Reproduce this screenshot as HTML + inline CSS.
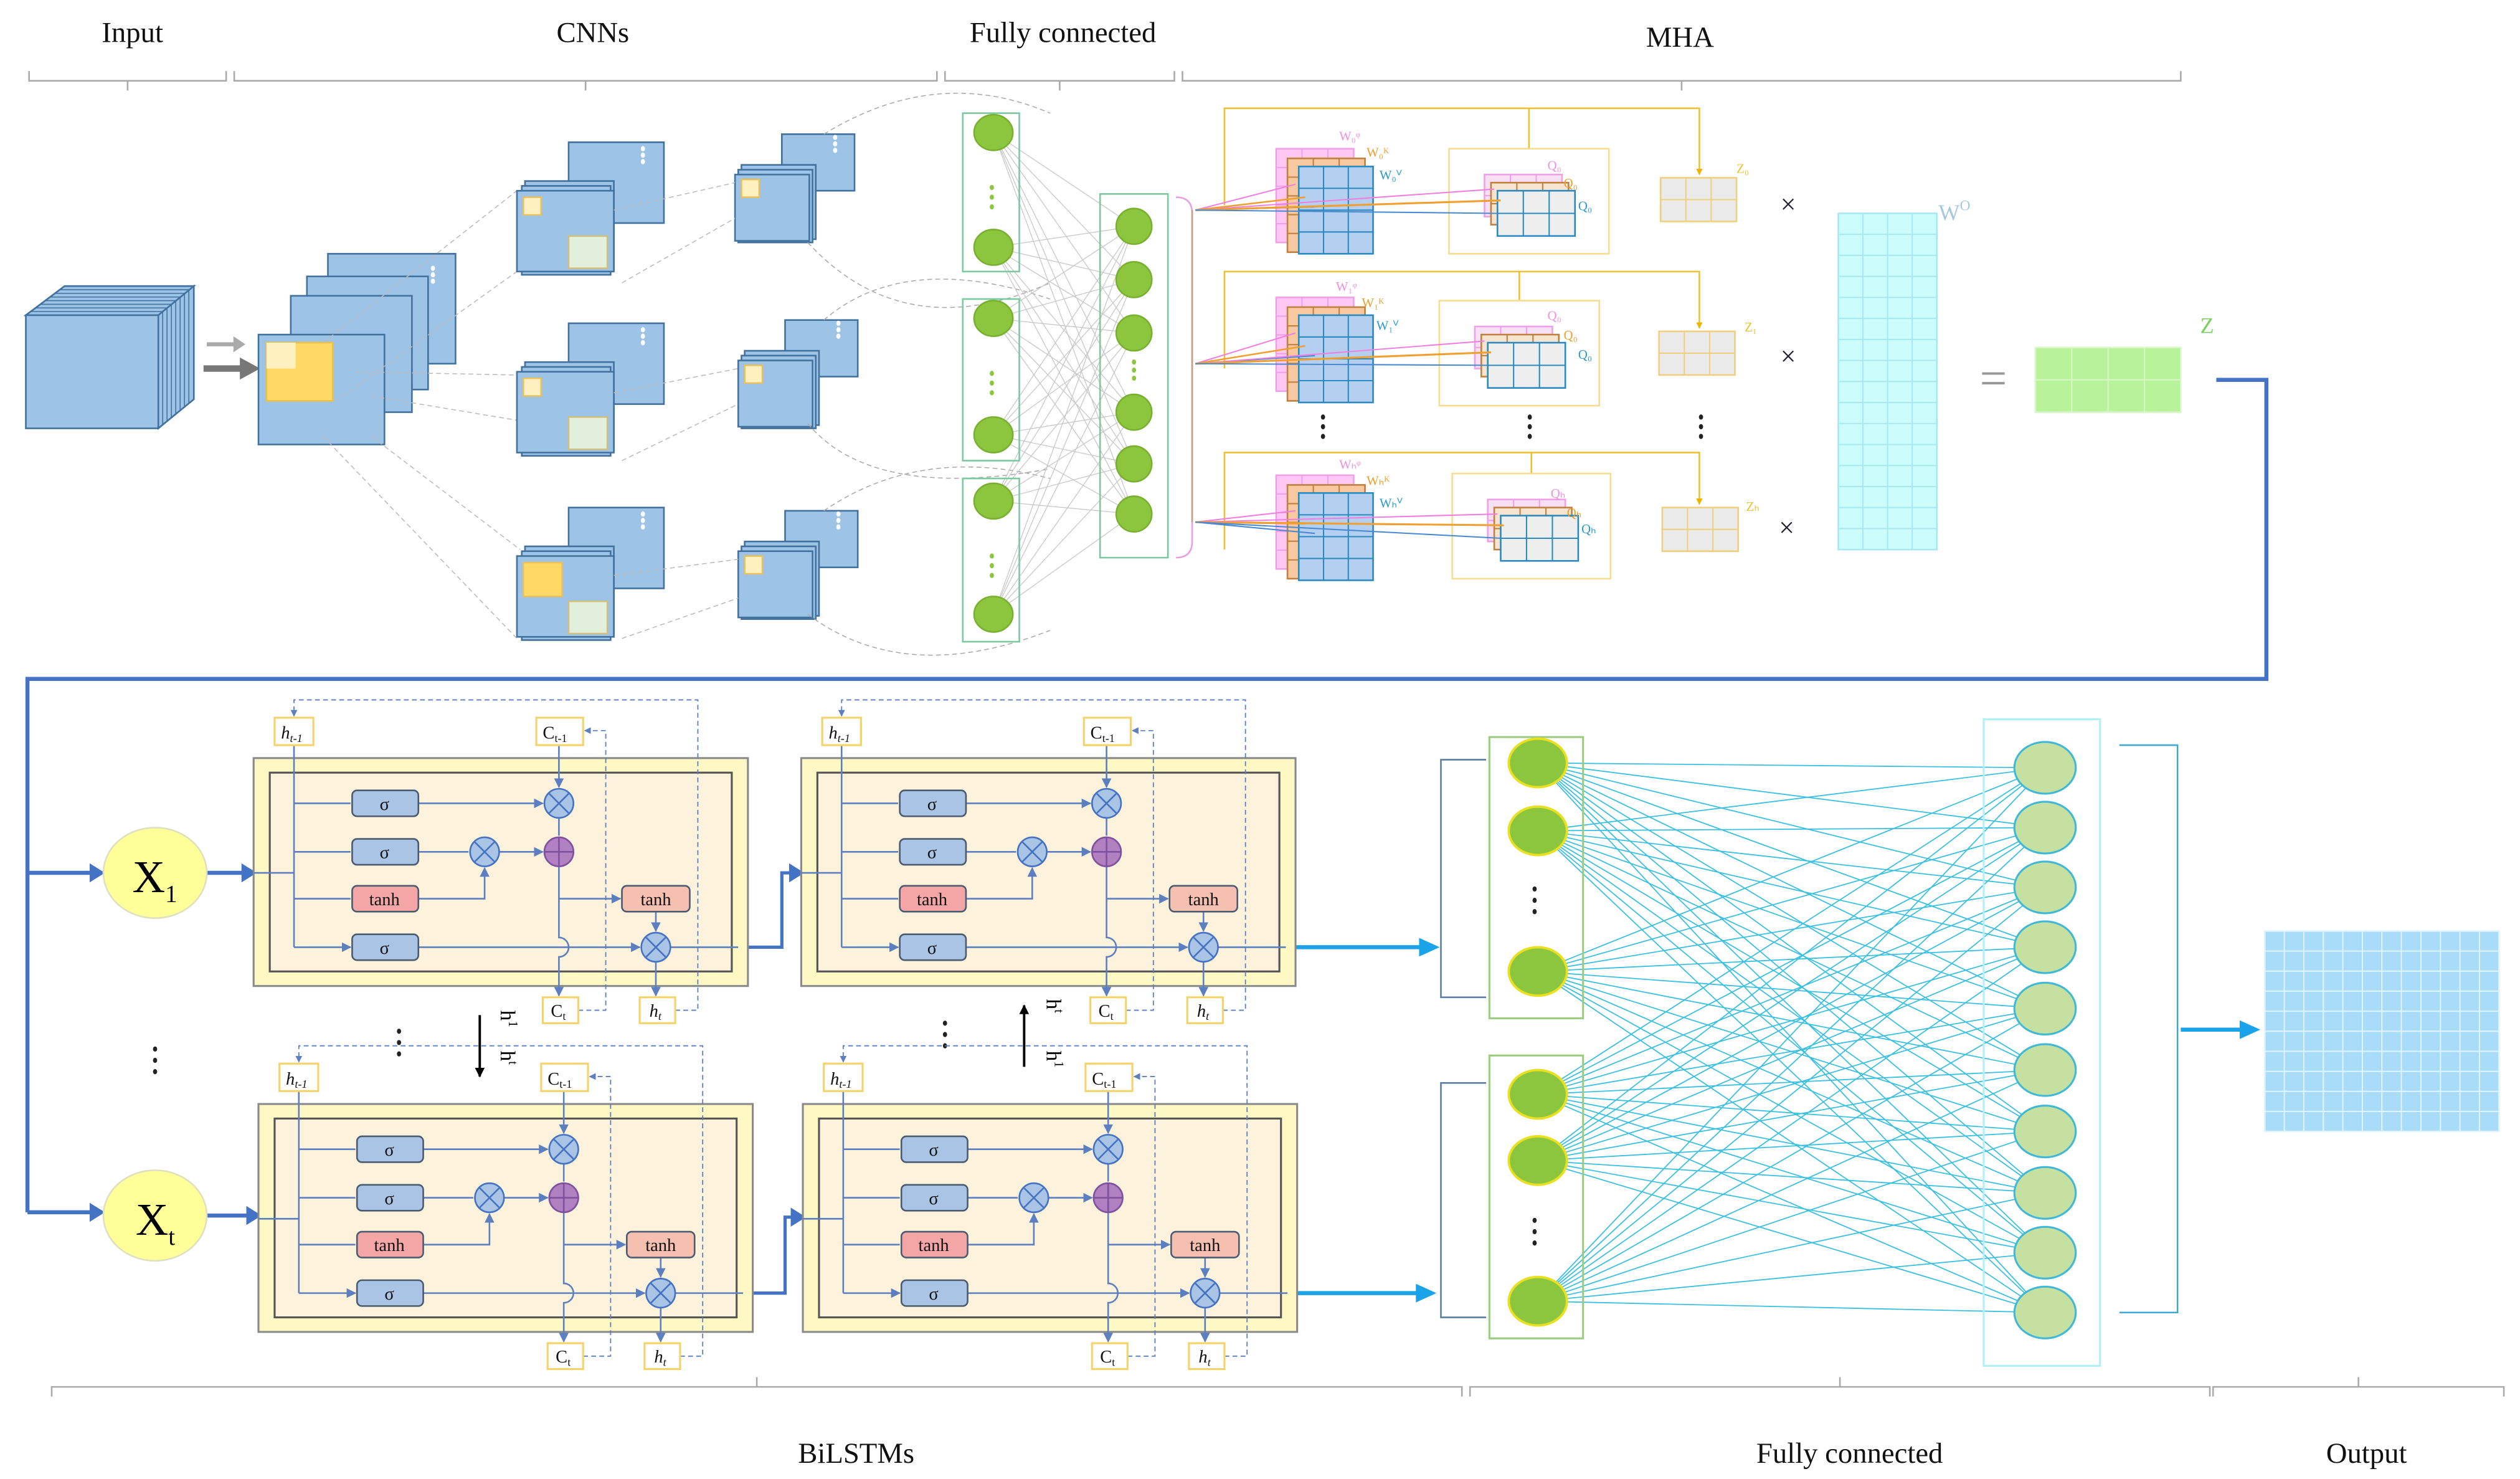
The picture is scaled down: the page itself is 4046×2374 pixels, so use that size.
<!DOCTYPE html>
<html><head><meta charset="utf-8"><style>
html,body{margin:0;padding:0;background:#fff;}
svg{display:block;}
text{font-family:"Liberation Serif",serif;}
</style></head><body>
<svg id="s" width="4046" height="2374" viewBox="0 0 1560 915" preserveAspectRatio="none" xmlns="http://www.w3.org/2000/svg">
<defs>
<marker id="ab" viewBox="0 0 10 10" refX="9" refY="5" markerWidth="4" markerHeight="4" orient="auto"><path d="M0,0L10,5L0,10z" fill="#4472c4"/></marker>
<marker id="ac" viewBox="0 0 10 10" refX="9" refY="5" markerWidth="4" markerHeight="4" orient="auto"><path d="M0,0L10,5L0,10z" fill="#1aa3e8"/></marker>
<marker id="ak" viewBox="0 0 10 10" refX="9" refY="5" markerWidth="4" markerHeight="4" orient="auto"><path d="M0,0L10,5L0,10z" fill="#000"/></marker>
<marker id="ay" viewBox="0 0 10 10" refX="9" refY="5" markerWidth="4" markerHeight="4" orient="auto"><path d="M0,0L10,5L0,10z" fill="#f0b400"/></marker>
<marker id="as" viewBox="0 0 10 10" refX="9" refY="5" markerWidth="6" markerHeight="6" orient="auto"><path d="M0,0L10,5L0,10z" fill="#5b7fc0"/></marker>
<g id="cell">
 <rect x="0" y="0" width="306" height="141" fill="#fdf8c4" stroke="#8a8a8a" stroke-width="1.2"/>
 <rect x="10" y="9" width="286" height="123" fill="#fdf3dc" stroke="#555" stroke-width="1.2"/>
 <g stroke="#5b7fc0" stroke-width="1" fill="none">
  <path d="M0,71H25"/>
  <path d="M25,-8V117"/>
  <path d="M25,28H60M25,58H60M25,87H60M25,117H60" marker-end="url(#as)"/>
  <path d="M102,28H179" marker-end="url(#as)"/>
  <path d="M189,-8V18" marker-end="url(#as)"/>
  <path d="M189,37V48"/>
  <path d="M102,58H133M152,58H179" marker-end="url(#as)"/>
  <path d="M102,87H143V68" marker-end="url(#as)"/>
  <path d="M189,67V111A5,5 0 0 1 189,123V147" marker-end="url(#as)"/>
  <path d="M189,87H227" marker-end="url(#as)"/>
  <path d="M249,95V107" marker-end="url(#as)"/>
  <path d="M102,117H239" marker-end="url(#as)"/>
  <path d="M249,126V147" marker-end="url(#as)"/>
  <path d="M258,117H300"/>
  <path d="M261,156H275V-36H25V-26" stroke-dasharray="3,2" stroke-width="0.7" marker-end="url(#as)"/>
  <path d="M201,156H218V-17H205" stroke-dasharray="3,2" stroke-width="0.7" marker-end="url(#as)"/>
 </g>
 <g stroke="#4a5a70" stroke-width="1">
  <rect x="61" y="20" width="41" height="16" rx="3" fill="#a9c4e4"/>
  <rect x="61" y="50" width="41" height="16" rx="3" fill="#a9c4e4"/>
  <rect x="61" y="79" width="41" height="16" rx="3" fill="#f4a6a6"/>
  <rect x="61" y="109" width="41" height="16" rx="3" fill="#a9c4e4"/>
  <rect x="228" y="79" width="42" height="16" rx="3" fill="#f6c0b0"/>
 </g>
 <g font-size="11" text-anchor="middle" fill="#111">
  <text x="81" y="32">σ</text><text x="81" y="62">σ</text><text x="81" y="91">tanh</text><text x="81" y="121">σ</text><text x="249" y="91">tanh</text>
 </g>
 <g stroke="#4472c4" stroke-width="1">
  <circle cx="189" cy="28" r="9" fill="#a9c4e4"/><path d="M183,22l12,12M195,22l-12,12"/>
  <circle cx="143" cy="58" r="9" fill="#a9c4e4"/><path d="M137,52l12,12M149,52l-12,12"/>
  <circle cx="189" cy="58" r="9" fill="#b080c0" stroke="#8050a0"/><path d="M180,58h18M189,49v18" stroke="#8050a0"/>
  <circle cx="249" cy="117" r="9" fill="#a9c4e4"/><path d="M243,111l12,12M255,111l-12,12"/>
 </g>
 <g fill="#fff" stroke="#f5d36a" stroke-width="1.2">
  <rect x="13" y="-25" width="24" height="17"/><rect x="175" y="-25" width="29" height="17"/>
  <rect x="179" y="148" width="22" height="16"/><rect x="239" y="148" width="22" height="16"/>
 </g>
 <g font-size="11" fill="#111">
  <text x="17" y="-12" font-style="italic">h<tspan font-size="7" dy="2">t-1</tspan></text>
  <text x="179" y="-12">C<tspan font-size="7" dy="2">t-1</tspan></text>
  <text x="184" y="160">C<tspan font-size="7" dy="2">t</tspan></text>
  <text x="245" y="160" font-style="italic">h<tspan font-size="7" dy="2">t</tspan></text>
 </g>
</g>
</defs>
<g id="dyn"></g>
<!-- headers -->
<g font-size="18" text-anchor="middle" fill="#111">
<text x="82" y="26">Input</text><text x="367" y="26">CNNs</text><text x="658" y="26">Fully connected</text><text x="1040" y="29">MHA</text>
<text x="530" y="905">BiLSTMs</text><text x="1145" y="905">Fully connected</text><text x="1465" y="905">Output</text>
</g>
<!-- MHA labels -->
<g font-family="Liberation Sans" font-size="8">
<text x="829" y="87" fill="#f090e0">W₀ᵠ</text><text x="846" y="97" fill="#e8a030">W₀ᴷ</text><text x="854" y="111" fill="#2a9ad0">W₀ⱽ</text>
<text x="958" y="105" fill="#f090e0">Q₀</text><text x="968" y="116" fill="#e8a030">Q₀</text><text x="977" y="130" fill="#2a9ad0">Q₀</text>
<text x="1075" y="107" fill="#f0c030">Z₀</text>
<text x="827" y="180" fill="#f090e0">W₁ᵠ</text><text x="843" y="190" fill="#e8a030">W₁ᴷ</text><text x="852" y="204" fill="#2a9ad0">W₁ⱽ</text>
<text x="958" y="198" fill="#f090e0">Q₀</text><text x="968" y="210" fill="#e8a030">Q₀</text><text x="977" y="222" fill="#2a9ad0">Q₀</text>
<text x="1080" y="205" fill="#f0c030">Z₁</text>
<text x="829" y="290" fill="#f090e0">Wₕᵠ</text><text x="846" y="300" fill="#e8a030">Wₕᴷ</text><text x="854" y="314" fill="#2a9ad0">Wₕⱽ</text>
<text x="960" y="308" fill="#f090e0">Qₕ</text><text x="970" y="320" fill="#e8a030">Qₕ</text><text x="979" y="330" fill="#2a9ad0">Qₕ</text>
<text x="1081" y="316" fill="#f0c030">Zₕ</text>
<text x="1200" y="136" font-size="14" fill="#a8c8e0">W<tspan font-size="9" dy="-6">O</tspan></text>
<text x="1362" y="206" font-size="14" fill="#7cd060">Z</text>
</g>
<g font-family="Liberation Sans" font-size="17" fill="#223" text-anchor="middle">
<text x="1107" y="132">×</text><text x="1107" y="226">×</text><text x="1106" y="332">×</text>
</g>
<text x="1234" y="244" font-family="Liberation Sans" font-size="30" fill="#999" text-anchor="middle">=</text>
<!-- X nodes -->
<ellipse cx="96" cy="540" rx="32" ry="28" fill="#ffff99" stroke="#e0e0c0"/>
<ellipse cx="96" cy="752" rx="32" ry="28" fill="#ffff99" stroke="#e0e0c0"/>
<text x="82" y="552" font-family="Liberation Sans" font-size="28">X<tspan font-size="15" dy="6">1</tspan></text>
<text x="84" y="764" font-family="Liberation Sans" font-size="28">X<tspan font-size="15" dy="6">t</tspan></text>
<use href="#cell" x="157" y="469"/>
<use href="#cell" x="496" y="469"/>
<use href="#cell" x="160" y="683"/>
<use href="#cell" x="497" y="683"/>
<!-- h arrows -->
<path d="M297,628V666" stroke="#000" stroke-width="1.5" marker-end="url(#ak)"/>
<path d="M634,660V622" stroke="#000" stroke-width="1.5" marker-end="url(#ak)"/>
<text transform="translate(310,625) rotate(90)" font-family="Liberation Sans" font-size="13">h<tspan font-size="8" dy="-5">1</tspan></text>
<text transform="translate(310,650) rotate(90)" font-family="Liberation Sans" font-size="13">h<tspan font-size="8" dy="-5">t</tspan></text>
<text transform="translate(648,618) rotate(90)" font-family="Liberation Sans" font-size="13">h<tspan font-size="8" dy="-5">t</tspan></text>
<text transform="translate(648,650) rotate(90)" font-family="Liberation Sans" font-size="13">h<tspan font-size="8" dy="-5">1</tspan></text>
</svg>
<script>
var NS="http://www.w3.org/2000/svg",g=document.getElementById("dyn"),h="";
function L(a,b,c,d,s,w,e){h+='<line x1="'+a+'" y1="'+b+'" x2="'+c+'" y2="'+d+'" stroke="'+s+'" stroke-width="'+(w||1)+'"'+(e||'')+'/>';}
function R(x,y,w,hh,f,s,sw){h+='<rect x="'+x+'" y="'+y+'" width="'+w+'" height="'+hh+'" fill="'+f+'" stroke="'+(s||'none')+'" stroke-width="'+(sw||1)+'"/>';}
function P(d,s,w,f,e){h+='<path d="'+d+'" stroke="'+s+'" stroke-width="'+(w||1)+'" fill="'+(f||'none')+'"'+(e||'')+'/>';}
function E(x,y,rx,ry,f,s,sw){h+='<ellipse cx="'+x+'" cy="'+y+'" rx="'+rx+'" ry="'+ry+'" fill="'+f+'" stroke="'+(s||'none')+'" stroke-width="'+(sw||1)+'"/>';}
function grid(x,y,w,hh,c,r,f,s){R(x,y,w,hh,f,s,1);for(var i=1;i<c;i++)L(x+w*i/c,y,x+w*i/c,y+hh,s,0.8);for(var j=1;j<r;j++)L(x,y+hh*j/r,x+w,y+hh*j/r,s,0.8);}
function dots(x,y,c,v){for(var i=0;i<3;i++)E(x,y+i*v,1.3,1.6,c);}
// braces
function brace(x1,x2,y,up){var d=up?-6:6;P('M'+x1+','+(y-d)+'V'+y+'H'+x2+'V'+(y-d)+'M'+((x1+x2)/2)+','+y+'V'+(y+d),'#aaa',1);}
brace(18,140,50,false);brace(145,580,50,false);brace(585,727,50,false);brace(732,1350,50,false);
brace(32,905,858,true);brace(910,1368,858,true);brace(1370,1550,858,true);
// input cube
var bl='#9dc3e6',bs='#41719c';
for(var i=8;i>=0;i--){P('M'+(16+i*2.6)+','+(195-i*2.2)+'l22,-20h0','none');}
P('M16,195L40,177H120L98,195Z',bl,1,bl);P('M16,195L40,177H120L98,195Z',bs,1);
P('M98,195L120,177V247L98,265Z',bl,1,bl);P('M98,195L120,177V247L98,265Z',bs,1);
for(var i=1;i<8;i++){L(98+i*2.7,195-i*2.25,98+i*2.7,265-i*2.25,bs,0.6);L(16+i*3,195-i*2.25,98+i*2.7,195-i*2.25,bs,0.6);}
R(16,195,82,70,bl,bs,1);
// arrows
P('M128,213H145','#aaa',2.5);P('M145,209L151,213L145,217Z','#aaa',1,'#aaa');
P('M126,228H150','#777',4);P('M149,222L160,228L149,234Z','#777',1,'#777');
// first stack
R(203,157,79,68,bl,bs);R(190,171,75,70,bl,bs);R(180,183,75,72,bl,bs);R(160,207,78,68,bl,bs);
R(165,212,41,36,'#ffd966','#f0c040');R(165,212,18,16,'#fff0c0');dots(268,174,'#fff',-4);
// dashed ellipse and connecting lines
function dl(a,b,c,d){L(a,b,c,d,'#bbb',0.6,' stroke-dasharray="3,2"');}
dl(200,212,320,118);dl(208,248,320,168);dl(230,270,322,340);dl(200,270,320,395);dl(220,230,320,232);dl(230,245,320,260);
function stackA(x,y,hl){R(x+32,y,59,50,bl,bs);R(x+5,y+24,55,55,bl,bs);R(x+3,y+27,55,55,bl,bs);R(x,y+30,60,50,bl,bs);
 R(x+4,y+34,hl?24:11,hl?21:11,hl?'#ffd966':'#fff0c0','#e8c060');R(x+32,y+58,24,20,'#e2efda','#d0c080');dots(x+78,y+12,'#fff',-4);}
stackA(320,88,0);stackA(320,200,0);stackA(320,314,1);
function stackB(x,y){R(x+29,y,45,35,bl,bs);R(x+4,y+19,46,46,bl,bs);R(x+2,y+22,46,45,bl,bs);R(x,y+25,46,41,bl,bs);R(x+4,y+28,11,11,'#fff0c0','#e8c060');dots(x+62,y+10,'#fff',-4);}
stackB(455,83);stackB(457,198);stackB(457,316);
dl(380,130,455,113);dl(385,175,455,135);dl(380,243,457,228);dl(385,285,457,250);dl(380,356,457,346);dl(385,395,457,370);
P('M510,83Q580,40 650,70','#aaa',0.6,'none',' stroke-dasharray="3,2"');P('M500,150Q560,215 650,175','#aaa',0.6,'none',' stroke-dasharray="3,2"');
P('M510,198Q560,155 650,185','#aaa',0.6,'none',' stroke-dasharray="3,2"');P('M500,262Q540,310 650,290','#aaa',0.6,'none',' stroke-dasharray="3,2"');
P('M510,316Q570,275 650,296','#aaa',0.6,'none',' stroke-dasharray="3,2"');P('M500,380Q560,425 650,390','#aaa',0.6,'none',' stroke-dasharray="3,2"');
// FC top
var c1=[82,153,197,269,310,380],c2=[140,173,206,255,287,318];
for(var i=0;i<6;i++)for(var j=0;j<6;j++)L(615,c1[i],702,c2[j],'#c8c8c8',0.5);
R(596,70,35,98,'none','#7cc8a0');R(596,185,35,100,'none','#7cc8a0');R(596,296,35,101,'none','#7cc8a0');R(681,120,42,225,'none','#7cc8a0');
c1.forEach(function(y){E(615,y,12,11,'#8cc63f','#7ab030')});c2.forEach(function(y){E(702,y,11,11,'#8cc63f','#7ab030')});
dots(614,116,'#8cc63f',6);dots(614,231,'#8cc63f',6);dots(614,344,'#8cc63f',6);dots(702,224,'#8cc63f',5);
P('M728,122Q738,122 738,132V335Q738,345 728,345','#e8a0e0',1);
// MHA rows
function row(y0,ty,mx,my,bx,by,bw,zx,zy){
 P('M'+(758)+','+(ty+60)+'V'+ty+'H'+1052+'V'+(zy-2),'#f0c030',1,'none',' marker-end="url(#ay)"');L(bx+bw/2,ty,bx+bw/2,by,'#f0c030',1);
 grid(mx,my,48,58,3,5,'#ffc8f4','#f0a0e8');grid(mx+7,my+6,48,58,3,5,'#f8c8a0','#c08040');grid(mx+14,my+11,46,54,3,4,'#b4cff0','#2a8ac0');
 R(bx,by,bw,65,'#fff','#f8dc90');grid(bx+22,by+16,48,26,3,2,'#f8e0f4','#f0a0e8');grid(bx+26,by+21,48,26,3,2,'#f4e4d0','#c08040');grid(bx+30,by+26,48,28,3,2,'#eee','#2a8ac0');
 grid(zx,zy,47,27,3,2,'#eaeaea','#f0d080');
 var sx=740,sy=y0;
 P('M'+sx+','+sy+'L'+(mx+12)+','+(my+22),'#f080e0',0.8);P('M'+sx+','+sy+'L'+(mx+18)+','+(my+30),'#f0a030',1);P('M'+sx+','+sy+'L'+(mx+24)+','+(my+36),'#4a8ad0',0.8);
 P('M'+sx+','+sy+'L'+(bx+28)+','+(by+25),'#f080e0',0.8);P('M'+sx+','+sy+'L'+(bx+32)+','+(by+32),'#f0a030',1.2);P('M'+sx+','+sy+'L'+(bx+30)+','+(by+40),'#4a8ad0',0.8);
}
row(130,67,790,92,897,92,99,1028,110);row(225,168,790,184,891,186,99,1027,205);row(323,280,790,294,899,293,98,1029,314);
P('M738,130V323','#c0a080',1);
dots(819,258,'#222',6);dots(947,258,'#222',6);dots(1053,258,'#222',6);
grid(1138,132,61,208,4,16,'#ccfcfc','#a8e8f0');
grid(1260,215,90,40,4,2,'#b8f29a','#d8f8c8');
// blue path
P('M1372,235H1403V420H17V750','#4472c4',2.5);
P('M17,540H58','#4472c4',2.5,'none');P('M56,535L64,540L56,545Z','#4472c4',1,'#4472c4');
P('M17,750H58','#4472c4',2.5);P('M56,745L64,750L56,755Z','#4472c4',1,'#4472c4');
P('M128,540H150','#4472c4',2.5);P('M150,535L158,540L150,545Z','#4472c4',1,'#4472c4');
P('M128,752H153','#4472c4',2.5);P('M153,747L161,752L153,757Z','#4472c4',1,'#4472c4');
P('M420,586H484V540H490','#4472c4',2);P('M489,535L497,540L489,545Z','#4472c4',1,'#4472c4');
P('M423,800H486V753H491','#4472c4',2);P('M490,748L498,753L490,758Z','#4472c4',1,'#4472c4');
P('M802,586H880','#1aa3e8',2.5);P('M879,581L890,586L879,591Z','#1aa3e8',1,'#1aa3e8');
P('M803,800H878','#1aa3e8',2.5);P('M877,795L888,800L877,805Z','#1aa3e8',1,'#1aa3e8');
dots(96,649,'#222',7);dots(247,638,'#222',7);dots(585,633,'#222',7);
// FC bottom
var l1=[472,514,601,677,718,805],r1=[475,512,549,586,624,662,700,738,775,812];
for(var i=0;i<6;i++)for(var j=0;j<10;j++)L(952,l1[i],1266,r1[j],'#3cc0e0',0.7);
P('M920,470H892V617H920','#5a7fa0',1);P('M920,670H892V815H920','#5a7fa0',1);
R(922,456,58,174,'none','#9ccc80',1.2);R(922,653,58,175,'none','#9ccc80',1.2);
l1.forEach(function(y){E(952,y,18,15,'#8cc63f','#e8e020',1.5)});
dots(950,550,'#222',7);dots(950,755,'#222',7);
R(1228,445,72,400,'none','#b0f0f8',1.2);
r1.forEach(function(y){E(1266,y,19,16,'#c5e0a0','#40b8d8',1.2)});
P('M1312,461H1348V812H1312','#40a8d0',1);
P('M1350,637H1388','#1aa3e8',2.5);P('M1387,632L1398,637L1387,642Z','#1aa3e8',1,'#1aa3e8');
grid(1402,576,145,124,12,10,'#a8dcf8','#e0f4ff');
g.innerHTML=h;
</script>
</body></html>
